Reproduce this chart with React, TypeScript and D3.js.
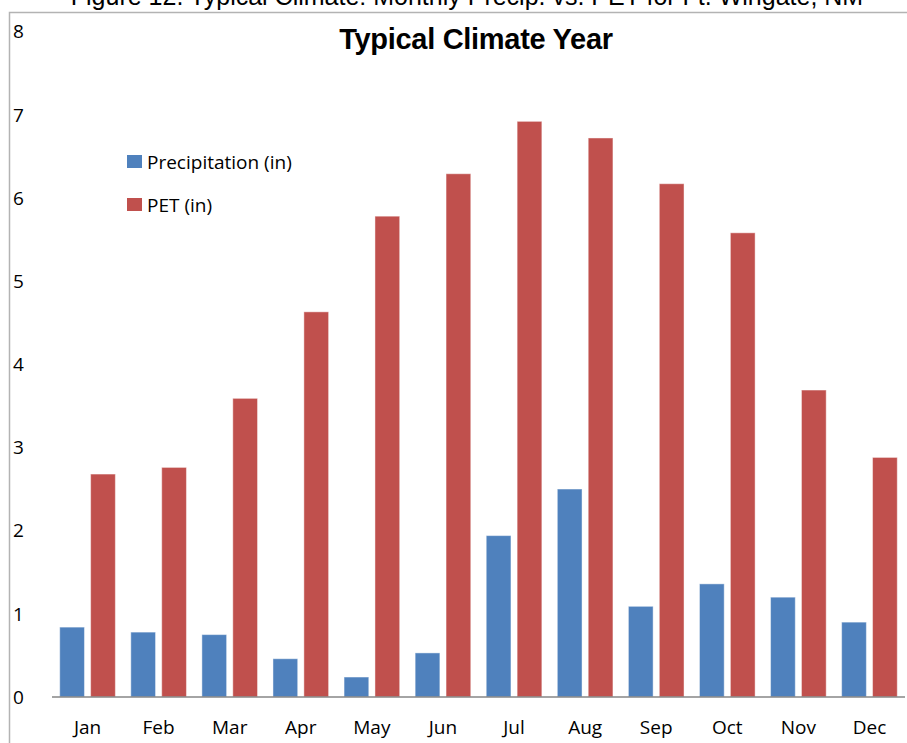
import { useEffect, useRef } from "react";
import * as d3 from "d3";

const months = ["Jan", "Feb", "Mar", "Apr", "May", "Jun", "Jul", "Aug", "Sep", "Oct", "Nov", "Dec"];
const precip = [0.84, 0.78, 0.75, 0.46, 0.24, 0.53, 1.94, 2.5, 1.09, 1.36, 1.2, 0.9];
const pet = [2.68, 2.76, 3.59, 4.63, 5.78, 6.29, 6.92, 6.72, 6.17, 5.58, 3.69, 2.88];
const seriesNames = ["Precipitation (in)", "PET (in)"];
const seriesColors = ["#4F81BD", "#C0504D"];
const yTicks = [0, 1, 2, 3, 4, 5, 6, 7, 8];

export default function App() {
  const svgRef = useRef<SVGSVGElement>(null);

  useEffect(() => {
    document.body.style.margin = "0";
    if (!svgRef.current) return;
    const svg = d3.select(svgRef.current);
    svg.selectAll("*").remove();

    const width = 907;
    const height = 743;
    const arial = "'Liberation Sans', Arial, sans-serif";
    const body = "'Open Sans', 'Liberation Sans', sans-serif";

    svg.attr("width", width).attr("height", height).style("display", "block")
      .style("font-family", body);

    svg.append("rect").attr("width", width).attr("height", height).attr("fill", "#fff");

    // figure caption, cut off by the top of the picture as in the source
    svg.append("text")
      .attr("x", 467).attr("y", 5)
      .attr("text-anchor", "middle")
      .style("font-family", arial)
      .style("font-size", "25px")
      .attr("fill", "#000")
      .text("Figure 12. Typical Climate: Monthly Precip. vs. PET for Ft. Wingate, NM");

    // chart frame
    svg.append("path")
      .attr("d", `M9.5,${height} V12.5 H${width}`)
      .attr("fill", "none")
      .attr("stroke", "#b3b3b3")
      .attr("stroke-width", 1.5);

    const x = d3.scaleBand<string>().domain(months).range([52, 905]);
    const xs = d3.scaleBand<number>().domain([0, 1]).range([0, x.bandwidth()])
      .paddingInner(0.2).paddingOuter(0.25);
    const y = d3.scaleLinear().domain([0, 8]).range([697, 31.5]);

    // title
    svg.append("text")
      .attr("x", 476).attr("y", 49)
      .attr("text-anchor", "middle")
      .style("font-family", arial)
      .style("font-size", "29px")
      .style("font-weight", "bold")
      .style("letter-spacing", "-0.3px")
      .attr("fill", "#000")
      .text("Typical Climate Year");

    // y tick labels
    svg.append("g").selectAll("text")
      .data(yTicks)
      .enter().append("text")
      .attr("x", 13)
      .attr("y", d => y(d))
      .attr("dy", "0.36em")
      .style("font-size", "19px")
      .attr("fill", "#000")
      .text(d => d);

    const series = [precip, pet];
    series.forEach((vals, si) => {
      svg.append("g").selectAll("rect")
        .data(vals)
        .enter().append("rect")
        .attr("x", (_, i) => (x(months[i]) as number) + (xs(si) as number))
        .attr("y", d => y(d))
        .attr("width", xs.bandwidth())
        .attr("height", d => y(0) - y(d))
        .attr("fill", seriesColors[si])
        .attr("stroke", "rgba(255,255,255,0.45)")
        .attr("stroke-width", 1);
    });

    // x axis line
    svg.append("line")
      .attr("x1", 52).attr("x2", 905)
      .attr("y1", y(0)).attr("y2", y(0))
      .attr("stroke", "#868686")
      .attr("stroke-width", 1.5);

    // month labels
    svg.append("g").selectAll("text")
      .data(months)
      .enter().append("text")
      .attr("x", d => (x(d) as number) + x.bandwidth() / 2)
      .attr("y", 734)
      .attr("text-anchor", "middle")
      .style("font-size", "19px")
      .attr("fill", "#000")
      .text(d => d);

    // legend
    const legend = svg.append("g").selectAll("g")
      .data(seriesNames)
      .enter().append("g")
      .attr("transform", (_, i) => `translate(127, ${162 + i * 43})`);
    legend.append("rect")
      .attr("x", 0).attr("y", -7)
      .attr("width", 15).attr("height", 13)
      .attr("fill", (_, i) => seriesColors[i]);
    legend.append("text")
      .attr("x", 20).attr("y", 0)
      .attr("dy", "0.36em")
      .style("font-size", "19px")
      .attr("fill", "#000")
      .text(d => d);
  }, []);

  return <svg ref={svgRef}></svg>;
}
